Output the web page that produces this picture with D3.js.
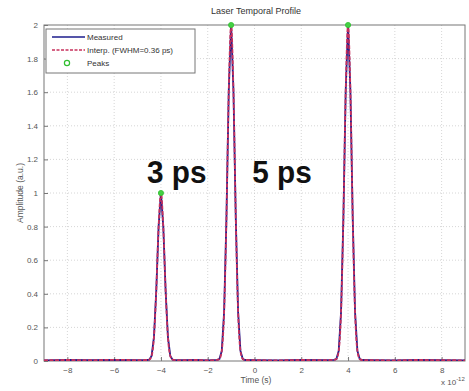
<!DOCTYPE html>
<html>
<head>
<meta charset="utf-8">
<script src="https://cdn.jsdelivr.net/npm/d3@7"></script>
<style>
  html, body { margin: 0; padding: 0; background: #fff; }
  svg { display: block; font-family: "Liberation Sans", Arial, sans-serif; }
</style>
</head>
<body>
<svg id="chart" width="469" height="391"></svg>
<script>
// Sampled time axis (ps) and measured amplitude (a.u.)
const timePs = [
  -9, -8, -7, -6, -5, -4.6,
  -4.5, -4.4, -4.3, -4.2, -4.1, -4.0, -3.9, -3.8, -3.7, -3.6, -3.5,
  -3.4, -3, -2.5, -2, -1.6,
  -1.5, -1.4, -1.3, -1.2, -1.1, -1.0, -0.9, -0.8, -0.7, -0.6, -0.5,
  -0.4, 0, 1, 2, 3, 3.4,
  3.5, 3.6, 3.7, 3.8, 3.9, 4.0, 4.1, 4.2, 4.3, 4.4, 4.5,
  4.6, 5, 6, 7, 8, 9
];
const amplitude = [
  0.004, 0.006, 0.005, 0.007, 0.005, 0.006,
  0.008, 0.03, 0.14, 0.42, 0.80, 1.00, 0.80, 0.42, 0.14, 0.03, 0.008,
  0.006, 0.005, 0.006, 0.004, 0.007,
  0.012, 0.06, 0.29, 0.85, 1.61, 2.00, 1.61, 0.85, 0.29, 0.06, 0.012,
  0.006, 0.005, 0.004, 0.006, 0.005, 0.007,
  0.012, 0.06, 0.29, 0.85, 1.61, 2.00, 1.61, 0.85, 0.29, 0.06, 0.012,
  0.006, 0.005, 0.004, 0.006, 0.005, 0.004
];
const peakTimes = [-4, -1, 4];
const peakAmps = [1, 2, 2];
const xTicks = [-8, -6, -4, -2, 0, 2, 4, 6, 8];
const yTicks = [0, 0.2, 0.4, 0.6, 0.8, 1, 1.2, 1.4, 1.6, 1.8, 2];
const spacingLabels = [
  { text: "3 ps", t: -4.6 },
  { text: "5 ps", t: -0.1 }
];
const legendItems = ["Measured", "Interp. (FWHM=0.36 ps)", "Peaks"];

const svg = d3.select("#chart");
const x = d3.scaleLinear().domain([-9, 9]).range([44, 465]);
const y = d3.scaleLinear().domain([0, 2]).range([361, 25]);

const plot = { l: 44, r: 465, t: 25, b: 361 };
const axisColor = "#777";
const textColor = "#555";

// dotted grid
const grid = svg.append("g");
grid.selectAll("line.vx").data(xTicks).join("line")
  .attr("x1", d => x(d)).attr("x2", d => x(d))
  .attr("y1", plot.t).attr("y2", plot.b)
  .attr("stroke", "#ccc").attr("stroke-width", 0.8).attr("stroke-dasharray", "1,2");
grid.selectAll("line.hy").data(yTicks.slice(1, -1)).join("line")
  .attr("x1", plot.l).attr("x2", plot.r)
  .attr("y1", d => y(d)).attr("y2", d => y(d))
  .attr("stroke", "#ccc").attr("stroke-width", 0.8).attr("stroke-dasharray", "1,2");

// plot frame
svg.append("rect")
  .attr("x", plot.l).attr("y", plot.t)
  .attr("width", plot.r - plot.l).attr("height", plot.b - plot.t)
  .attr("fill", "none").attr("stroke", axisColor).attr("stroke-width", 1);

// axes
const xAxis = svg.append("g").attr("transform", `translate(0,${plot.b})`)
  .call(d3.axisBottom(x).tickValues(xTicks).tickSize(-4).tickPadding(6).tickFormat(d3.format("d")));
const yAxis = svg.append("g").attr("transform", `translate(${plot.l},0)`)
  .call(d3.axisLeft(y).tickValues(yTicks).tickSize(-4).tickPadding(6).tickFormat(d => d));
[xAxis, yAxis].forEach(a => {
  a.select(".domain").remove();
  a.selectAll(".tick line").attr("stroke", axisColor);
  a.selectAll(".tick text").attr("fill", textColor).attr("font-size", 8)
    .attr("font-family", "Liberation Sans, Arial, sans-serif");
});

// pulse traces
const pts = timePs.map((t, i) => [t, amplitude[i]]);
svg.append("clipPath").attr("id", "clip").append("rect")
  .attr("x", plot.l).attr("y", plot.t - 2).attr("width", plot.r - plot.l).attr("height", plot.b - plot.t + 2);
const traces = svg.append("g").attr("clip-path", "url(#clip)");
traces.append("path").datum(pts)
  .attr("d", d3.line().x(d => x(d[0])).y(d => y(d[1])))
  .attr("fill", "none").attr("stroke", "#1c1c8c").attr("stroke-width", 1.8);
traces.append("path").datum(pts)
  .attr("d", d3.line().x(d => x(d[0])).y(d => y(d[1])).curve(d3.curveMonotoneX))
  .attr("fill", "none").attr("stroke", "#c8305c").attr("stroke-width", 1.8)
  .attr("stroke-dasharray", "4,1.5");

// peak markers
svg.append("g").selectAll("circle").data(peakTimes).join("circle")
  .attr("cx", d => x(d)).attr("cy", (d, i) => y(peakAmps[i]))
  .attr("r", 2.6).attr("fill", "#44d044").attr("stroke", "#2fbf2f").attr("stroke-width", 0.8);

// spacing annotations
svg.append("g").selectAll("text").data(spacingLabels).join("text")
  .attr("transform", d => `translate(${x(d.t)},183) scale(0.93,1)`)
  .attr("font-size", 32).attr("font-weight", "bold").attr("fill", "#111")
  .text(d => d.text);

// titles and axis labels
svg.append("text").attr("x", 256).attr("y", 14).attr("text-anchor", "middle")
  .attr("font-size", 9).attr("fill", "#333").text("Laser Temporal Profile");
svg.append("text").attr("x", 256).attr("y", 383).attr("text-anchor", "middle")
  .attr("font-size", 8.5).attr("fill", textColor).text("Time (s)");
svg.append("text").attr("transform", "translate(23,193) rotate(-90)").attr("text-anchor", "middle")
  .attr("font-size", 8.5).attr("fill", textColor).text("Amplitude (a.u.)");
const exp = svg.append("text").attr("x", 441).attr("y", 385).attr("font-size", 8).attr("fill", textColor);
exp.append("tspan").text("x 10");
exp.append("tspan").attr("dy", -4).attr("font-size", 6).text("-12");

// legend
const lg = svg.append("g").attr("transform", "translate(46,29)");
lg.append("rect").attr("width", 149).attr("height", 44)
  .attr("fill", "#fff").attr("stroke", axisColor).attr("stroke-width", 1);
const rowY = [8, 21, 34];
lg.append("line").attr("x1", 6).attr("x2", 39).attr("y1", rowY[0]).attr("y2", rowY[0])
  .attr("stroke", "#1c1c8c").attr("stroke-width", 1.6);
lg.append("line").attr("x1", 6).attr("x2", 39).attr("y1", rowY[1]).attr("y2", rowY[1])
  .attr("stroke", "#c8305c").attr("stroke-width", 1.6).attr("stroke-dasharray", "3,1.5");
lg.append("circle").attr("cx", 21).attr("cy", rowY[2]).attr("r", 2.6)
  .attr("fill", "none").attr("stroke", "#2fbf2f").attr("stroke-width", 1.2);
lg.selectAll("text.item").data(legendItems).join("text")
  .attr("x", 41).attr("y", (d, i) => rowY[i] + 3)
  .attr("font-size", 8).attr("fill", "#333").text(d => d);
</script>
</body>
</html>
